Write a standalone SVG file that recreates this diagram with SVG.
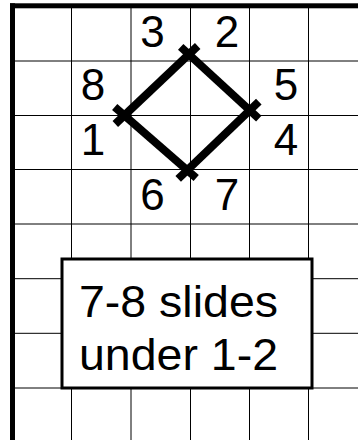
<svg xmlns="http://www.w3.org/2000/svg" width="358" height="440" viewBox="0 0 358 440">
<style>
.grid line{stroke:#000;stroke-width:1}
.sq line{stroke:#000;stroke-width:8;stroke-linecap:butt}
.lbl{font-family:"Liberation Sans",Arial,sans-serif;font-size:44px;fill:#000;text-anchor:middle}
.note{font-family:"Liberation Sans",Arial,sans-serif;font-size:45px;fill:#000}
</style>
<rect width="358" height="440" fill="#fff"/>
<g id="grid" class="grid">
<line x1="71.5" y1="6" x2="71.5" y2="440"/>
<line x1="131" y1="6" x2="131" y2="440"/>
<line x1="190.5" y1="6" x2="190.5" y2="440"/>
<line x1="249.5" y1="6" x2="249.5" y2="440"/>
<line x1="308.5" y1="6" x2="308.5" y2="440"/>
<line x1="13" y1="61" x2="358" y2="61"/>
<line x1="13" y1="115.5" x2="358" y2="115.5"/>
<line x1="13" y1="169.5" x2="358" y2="169.5"/>
<line x1="13" y1="224" x2="358" y2="224"/>
<line x1="13" y1="278.7" x2="358" y2="278.7"/>
<line x1="13" y1="333.3" x2="358" y2="333.3"/>
<line x1="13" y1="388" x2="358" y2="388"/>
</g>
<g id="border">
<rect x="10" y="3.3" width="348" height="5" fill="#000"/>
<rect x="10" y="3.3" width="5" height="437" fill="#000"/>
</g>
<g id="connectors" class="sq">
<line x1="180.7" y1="46.9" x2="258.8" y2="118.6"/>
<line x1="258.8" y1="101.7" x2="178.2" y2="178.8"/>
<line x1="196.2" y1="178.1" x2="114.7" y2="106.9"/>
<line x1="115.3" y1="124.0" x2="197.7" y2="46.0"/>
</g>
<g id="labels">
<text class="lbl" x="152.5" y="46.5">3</text>
<text class="lbl" x="227" y="46.5">2</text>
<text class="lbl" x="93" y="99.5">8</text>
<text class="lbl" x="286" y="99.5">5</text>
<text class="lbl" x="93" y="155">1</text>
<text class="lbl" x="286" y="155">4</text>
<text class="lbl" x="152.5" y="210">6</text>
<text class="lbl" x="227" y="210">7</text>
</g>
<g id="note">
<rect x="62" y="259" width="250" height="129" fill="#fff" stroke="#000" stroke-width="3"/>
<text class="note" x="79" y="316.7" textLength="199" lengthAdjust="spacingAndGlyphs">7-8 slides</text>
<text class="note" x="79" y="370" textLength="199" lengthAdjust="spacingAndGlyphs">under 1-2</text>
</g>
</svg>
